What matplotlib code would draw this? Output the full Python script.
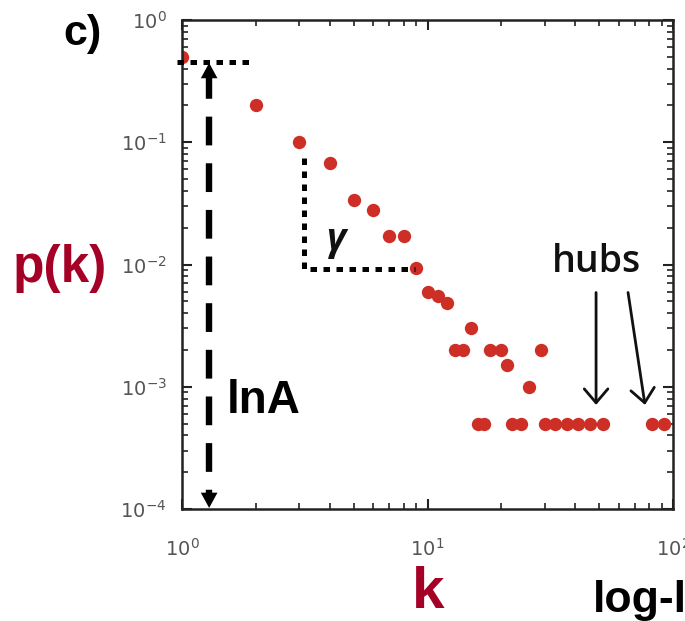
import matplotlib
matplotlib.use("Agg")
import matplotlib.pyplot as plt

# degree distribution
k = [1, 2, 3, 4, 5, 6, 7, 8, 9, 10, 11, 12, 13, 14, 15, 16, 17, 18, 20, 21,
     22, 24, 26, 29, 30, 33, 37, 41, 46, 52, 82, 92]
pk = [0.5, 0.2, 0.1, 0.068, 0.034, 0.028, 0.017, 0.017, 0.0093, 0.006,
      0.0055, 0.0048, 0.002, 0.002, 0.003, 0.0005, 0.0005, 0.002, 0.002,
      0.0015, 0.0005, 0.0005, 0.001, 0.002, 0.0005, 0.0005, 0.0005, 0.0005,
      0.0005, 0.0005, 0.0005, 0.0005]

XLIM = (1, 100)
YLIM = (1e-4, 1)

# annotation geometry (data coords)
LNA_X = 1.29
LNA_TOP, LNA_BOT = 0.445, 1.02e-4
TOP_LINE_Y = 0.453
TOP_LINE_X = (0.954, 1.984)
GAMMA_X0, GAMMA_X1 = 3.14, 8.9
GAMMA_Y0, GAMMA_Y1 = 0.0743, 0.0092
HUB_ARROWS = [((48.6, 0.0059), (48.6, 0.00071)),
              ((65.6, 0.0059), (76.9, 0.00071))]

DOT_COLOR = "#cd2f26"
DARK_RED = "#a50026"
BOLD = "Liberation Sans"

W, H = 685, 621
fig = plt.figure(figsize=(W / 100, H / 100), dpi=100)
ax = fig.add_axes([182 / W, 1 - 509 / H, 491 / W, 489 / H])

ax.plot(k, pk, "o", color=DOT_COLOR, markersize=9.6, markeredgewidth=0,
        zorder=2)

ax.set_xscale("log")
ax.set_yscale("log")
ax.set_xlim(*XLIM)
ax.set_ylim(*YLIM)
ax.set_xticks([1, 10, 100])
ax.set_yticks([1e-4, 1e-3, 1e-2, 1e-1, 1])

for s in ax.spines.values():
    s.set_linewidth(1.8)
    s.set_color("#222222")
ax.tick_params(which="both", direction="in", top=True, right=True,
               color="#222222", labelcolor="#555555", labelsize=14)
ax.tick_params(which="major", length=7, width=1.5)
ax.tick_params(which="minor", length=4, width=1.2)
ax.tick_params(axis="x", which="major", pad=21)
ax.tick_params(axis="y", which="major", pad=11)

dot_style = dict(color="black", lw=3.6, dashes=(1.3, 1.3), zorder=4,
                 dash_capstyle="butt")

# dotted level line at the top
ax.plot(TOP_LINE_X, [TOP_LINE_Y, TOP_LINE_Y], clip_on=False, **dot_style)

# dashed double arrow (lnA)
ax.plot([LNA_X, LNA_X], [0.39, 1.2e-4], color="black", lw=4.6,
        dashes=(4.5, 2.8), zorder=4, dash_capstyle="butt")
for tip, off in [(LNA_TOP, -12), (LNA_BOT, 12)]:
    ax.annotate("", xy=(LNA_X, tip), xytext=(0, off),
                textcoords="offset points",
                arrowprops=dict(arrowstyle="-|>,head_length=1.1,head_width=0.6",
                                color="black", lw=0, shrinkA=0, shrinkB=0),
                zorder=5)

# dotted L for the slope
ax.plot([GAMMA_X0, GAMMA_X0, GAMMA_X1], [GAMMA_Y0, GAMMA_Y1, GAMMA_Y1],
        **dot_style)

ax.text(4.28, 0.016, "γ", fontsize=27, fontstyle="italic", fontweight="bold",
        family=["Open Sans", "DejaVu Sans"], ha="center", va="center",
        color="#111111")
ax.text(1.525, 0.00061, "lnA", fontsize=33, fontweight="bold", family=BOLD,
        ha="left", va="baseline", color="black")

# hubs
ax.text(49, 0.0105, "hubs", fontsize=27, fontweight="semibold",
        family=["Open Sans", "DejaVu Sans"],
        ha="center", va="center", color="#111111")
for start, end in HUB_ARROWS:
    ax.annotate("", xy=end, xytext=start,
                arrowprops=dict(arrowstyle="->,head_length=1.0,head_width=0.85",
                                color="#111111", lw=2.0, shrinkA=0, shrinkB=0))

# labels around the frame
fig.text(63 / W, 1 - 45 / H, "c)", fontsize=31, fontweight="bold",
         family=BOLD, ha="left", va="baseline")
fig.text(13 / W, 1 - 282 / H, "p(k)", fontsize=37, fontweight="bold",
         family=BOLD, color=DARK_RED, ha="left", va="baseline")
fig.text(428 / W, 1 - 608 / H, "k", fontsize=42, fontweight="bold",
         family=BOLD, color=DARK_RED, ha="center", va="baseline")
fig.text(593 / W, 1 - 612 / H, "log-log", fontsize=32, fontweight="bold",
         family=BOLD, color="black", ha="left", va="baseline")

fig.savefig("out.png", dpi=100)
